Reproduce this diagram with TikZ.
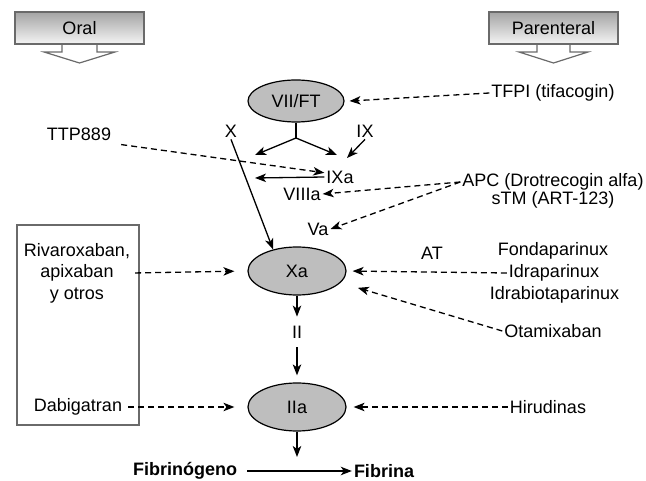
\documentclass[tikz,border=0pt]{standalone}
\usepackage{fontspec}
\setmainfont{Liberation Sans}
\usetikzlibrary{arrows.meta,positioning,shapes.geometric}
\definecolor{coagEnzymeGray}{HTML}{BEBEBE}
\definecolor{coagRouteTop}{HTML}{A4A4A4}
\definecolor{coagRouteBottom}{HTML}{F4F4F4}
\definecolor{coagRouteEdge}{HTML}{6A6A6A}

\begin{document}
\begin{tikzpicture}[x=1pt,y=-1pt,
    every node/.style={font=\fontsize{18}{21.5}\selectfont,inner sep=2pt},
    enzyme/.style={ellipse,draw,line width=1.2pt,fill=coagEnzymeGray,minimum width=98,minimum height=48},
    route/.style={draw=coagRouteEdge,line width=1.2pt,top color=coagRouteTop,bottom color=coagRouteBottom,minimum width=129,minimum height=32},
    routetip/.style={draw=coagRouteEdge,line width=1.2pt,fill=white},
    act/.style={line width=1.3pt,-{Stealth[length=11pt,width=8.5pt,inset=3pt]}},
    inh/.style={act,dash pattern=on 6pt off 4pt}]
    \useasboundingbox (0,0) rectangle (646,481);
    \filldraw[routetip] (62,44) -- (62,52) -- (44,52) -- (79.5,63) -- (115,52) -- (97,52) -- (97,44);
    \filldraw[routetip] (537,44) -- (537,52) -- (519,52) -- (553.5,63) -- (588,52) -- (570,52) -- (570,44);
    \node[route] (oral) at (79.5,28) {Oral};
    \node[route] (parent) at (553.5,28) {Parenteral};
    \draw[draw=coagRouteEdge,line width=1.2pt] (17,225) rectangle (139,425);

    \node[enzyme,minimum width=96,minimum height=42] (vii) at (296,101) {VII/FT};
    \node[enzyme] (xa) at (297,271) {Xa};
    \node[enzyme] (iia) at (297,407) {IIa};

    \node (tfpi) at (553,93) {TFPI (tifacogin)};
    \node (xlab) at (231,131) {X};
    \node (ixlab) at (365,131) {IX};
    \node (ttp) at (79,134) {TTP889};
    \node (ixa) at (340,177) {IXa};
    \node (viiia) at (302,194) {VIIIa};
    \node (va) at (318,229) {Va};
    \node (apc) at (553,182) {APC (Drotrecogin alfa)};
    \node (stm) at (553,200) {sTM (ART-123)};
    \node (at) at (432,253) {AT};
    \node (fonda) at (553,251) {Fondaparinux};
    \node (idra) at (554,273) {Idraparinux};
    \node (idrab) at (554.5,295) {Idrabiotaparinux};
    \node (ota) at (553,331) {Otamixaban};
    \node[align=center] (riva) at (77,273) {Rivaroxaban,\\apixaban\\y otros};
    \node (dabi) at (78,407) {Dabigatran};
    \node (hir) at (548,407) {Hirudinas};
    \node[inner sep=9pt] (ii) at (297,332) {II};
    \node[font=\fontsize{18}{21.5}\selectfont\bfseries] (fbg) at (185,471) {Fibrinógeno};
    \node[font=\fontsize{18}{21.5}\selectfont\bfseries] (fbn) at (384,471) {Fibrina};

    \coordinate (fork) at (296,138);
    \coordinate (forkl) at (255,155);
    \coordinate (forkr) at (337,155);
    \coordinate (ixaout) at (255,178);
    \coordinate (ixin) at (347,158);
    \coordinate (fibout) at (297,457);

    \draw[inh] (tfpi.west) -- ([xshift=5]vii.east);
    \draw[line width=1.3pt] (vii.south) -- (fork);
    \draw[act] (fork) -- (forkl);
    \draw[act] (fork) -- (forkr);
    \draw[act] (ixlab.south) -- (ixin);
    \draw[act] (xlab.south) -- (xa.138);
    \draw[inh] ([shift={(8,2)}]ttp.south east) -- (ixa.165);
    \draw[act] (ixa.west) -- (ixaout);
    \draw[inh] (apc.west) -- (viiia.east);
    \draw[inh] (apc.west) -- (va.east);
    \draw[inh,shorten <=3pt,shorten >=13pt] (riva.east) -- (xa.west);
    \draw[inh,shorten <=4pt,shorten >=13pt] (dabi.east) -- (iia.west);
    \draw[inh,shorten >=6pt] (idra.west) -- (xa.east);
    \draw[inh,shorten >=18pt] (ota.west) -- (xa.-15);
    \draw[inh,shorten >=7pt] (hir.west) -- (iia.east);
    \draw[act] (xa.south) -- (ii.north);
    \draw[act,shorten >=7pt] (ii.south) -- (iia.north);
    \draw[act] (iia.south) -- (fibout);
    \draw[act,shorten <=8pt] (fbg.east) -- (fbn.west);
  \end{tikzpicture}
\end{document}
